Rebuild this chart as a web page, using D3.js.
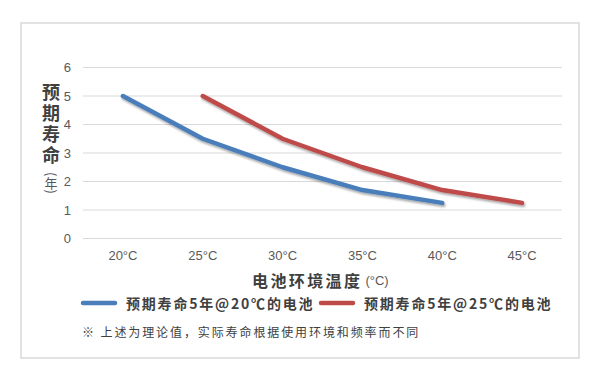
<!DOCTYPE html>
<html><head><meta charset="utf-8">
<script src="https://cdn.jsdelivr.net/npm/d3@7"></script>
<style>
html,body{margin:0;padding:0;background:#fff;}
svg{display:block;font-family:"Liberation Sans","Noto Sans CJK SC",sans-serif;}
</style></head>
<body>
<svg id="chart" width="600" height="380"></svg>
<script>
const categories = ["20°C","25°C","30°C","35°C","40°C","45°C"];
const series20 = [5, 3.5, 2.5, 1.7, 1.25, null];
const series25 = [null, 5, 3.5, 2.5, 1.7, 1.25];
const yTicks = [0,1,2,3,4,5,6];
const seriesNames = ["预期寿命5年@20℃的电池","预期寿命5年@25℃的电池"];
const seriesColors = ["#4a7ebb","#be4b48"];
const yTitle = "预期寿命";
const yUnit = "(年)";
const xTitle = "电池环境温度";
const xUnit = "(°C)";
const note = "※ 上述为理论值，实际寿命根据使用环境和频率而不同";

const svg = d3.select("#chart");
const defs = svg.append("defs");
const f = defs.append("filter").attr("id","sh").attr("x","-10%").attr("y","-30%").attr("width","120%").attr("height","160%");
f.append("feDropShadow").attr("dx",1).attr("dy",2).attr("stdDeviation",1.3).attr("flood-color","#000").attr("flood-opacity",0.35);

svg.append("rect").attr("x",21).attr("y",23).attr("width",558).attr("height",335)
  .attr("fill","#fff").attr("stroke","#d9d9d9").attr("stroke-width",1.5);

const x = d3.scaleBand().domain(categories).range([83,562]);
const y = d3.scaleLinear().domain([0,6]).range([238.5,67.5]);

// grid
svg.append("g").selectAll("line").data(yTicks).join("line")
  .attr("x1",83).attr("x2",562).attr("y1",d=>y(d)).attr("y2",d=>y(d))
  .attr("stroke","#d9d9d9").attr("stroke-width",1);

// y axis labels
const yAxis = d3.axisLeft(y).tickValues(yTicks).tickFormat(d3.format("d")).tickSize(0).tickPadding(0);
const gy = svg.append("g").attr("transform","translate(71,0)").call(yAxis);
gy.select(".domain").remove();
gy.selectAll("text").attr("font-size",13).attr("fill","#595959").attr("font-family","Liberation Sans, sans-serif");

// x axis labels
const xAxis = d3.axisBottom(x).tickSize(0).tickPadding(0);
const gx = svg.append("g").attr("transform","translate(0,251)").call(xAxis);
gx.select(".domain").remove();
gx.selectAll("text").attr("font-size",13).attr("fill","#595959").attr("font-family","Liberation Sans, sans-serif");

// lines
const line = d3.line().defined(d=>d.v!=null).x(d=>x(d.c)+x.bandwidth()/2).y(d=>y(d.v)).curve(d3.curveLinear);
[series20, series25].forEach((s,i)=>{
  const data = categories.map((c,j)=>({c, v:s[j]}));
  svg.append("path").datum(data).attr("d",line)
    .attr("fill","none").attr("stroke",seriesColors[i]).attr("stroke-width",4.5)
    .attr("stroke-linecap","round").attr("stroke-linejoin","round").attr("filter","url(#sh)");
});

// y title (vertical writing)
svg.append("text").attr("x",51).attr("y",83)
  .style("writing-mode","vertical-rl").attr("letter-spacing",3)
  .attr("font-size",18).attr("font-weight","bold").attr("fill","#404040")
  .attr("font-family","Noto Sans CJK SC, sans-serif").text(yTitle);
svg.append("text").attr("x",51).attr("y",172)
  .style("writing-mode","vertical-rl")
  .attr("font-size",13).attr("fill","#595959")
  .attr("font-family","Noto Sans CJK SC, sans-serif").text(yUnit);

// x title
const xt = svg.append("text").attr("x",252).attr("y",280).attr("dominant-baseline","central")
  .attr("fill","#404040").attr("font-family","Noto Sans CJK SC, sans-serif");
xt.append("tspan").attr("font-size",16).attr("font-weight","bold").attr("letter-spacing",2.4).text(xTitle);
xt.append("tspan").attr("font-size",13).attr("dx",3).attr("fill","#595959").attr("font-family","Liberation Sans, sans-serif").text(xUnit);

// legend
const legX = [82, 320];
seriesNames.forEach((n,i)=>{
  svg.append("line").attr("x1",legX[i]+1).attr("x2",legX[i]+33).attr("y1",303).attr("y2",303)
    .attr("stroke",seriesColors[i]).attr("stroke-width",4.5).attr("stroke-linecap","round");
  svg.append("text").attr("x",legX[i]+44).attr("y",303).attr("dominant-baseline","central")
    .attr("font-size",14).attr("font-weight","bold").attr("letter-spacing",1.8).attr("fill","#404040")
    .attr("font-family","Noto Sans CJK SC, sans-serif").text(n);
});

// note
svg.append("text").attr("x",82).attr("y",331).attr("dominant-baseline","central")
  .attr("font-size",12).attr("letter-spacing",1.9).attr("fill","#404040")
  .attr("font-family","Noto Sans CJK SC, sans-serif").text(note);
</script>
</body></html>
